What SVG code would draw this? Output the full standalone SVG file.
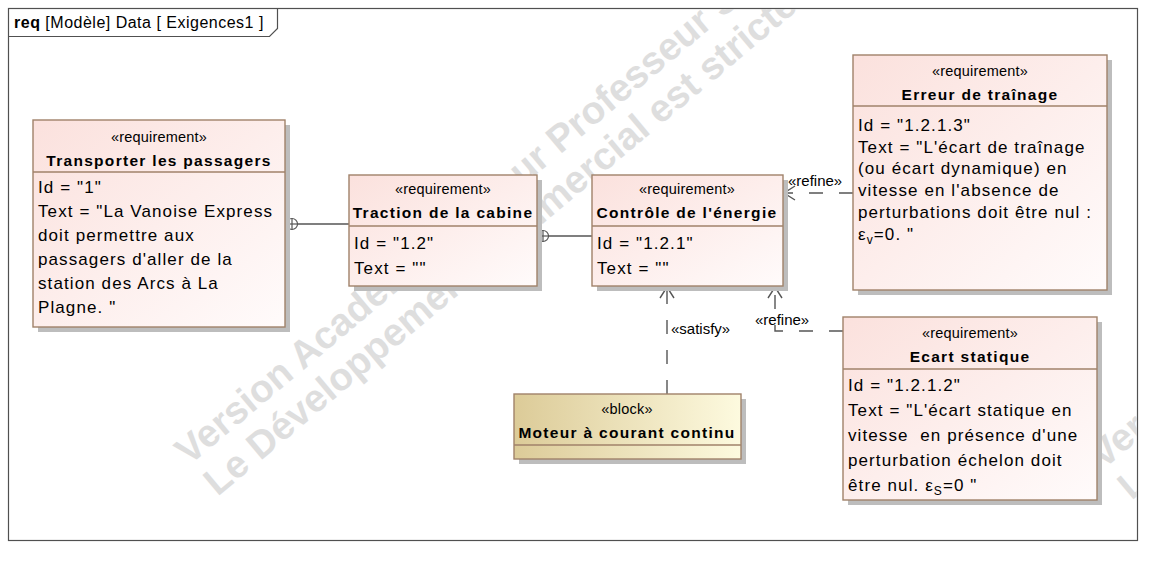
<svg xmlns="http://www.w3.org/2000/svg" width="1161" height="564" viewBox="0 0 1161 564">
<style>
  .frame{fill:#fff;stroke:#505050;stroke-width:1.2}
  .wm{font-family:"Liberation Sans",Arial,sans-serif;font-size:38.5px;font-weight:bold;fill:#dedede}
  .box{stroke:#a0826a;stroke-width:1.4}
  .req{fill:url(#gReq)}
  .blk{fill:url(#gBlk)}
  .shadow{fill:#bdbdbd}
  .div{stroke:#a0826a;stroke-width:1.4}
  .st{font-family:"Liberation Sans",Arial,sans-serif;font-size:14.5px;fill:#000;text-anchor:middle;letter-spacing:0.2px}
  .nm{font-family:"Liberation Sans",Arial,sans-serif;font-size:15.5px;font-weight:bold;fill:#000;text-anchor:middle;letter-spacing:1.3px}
  .bd{font-family:"Liberation Sans",Arial,sans-serif;font-size:17px;fill:#000;letter-spacing:1.1px;white-space:pre}
  .lbl{font-family:"Liberation Sans",Arial,sans-serif;font-size:15px;fill:#000}
  .tab{font-family:"Liberation Sans",Arial,sans-serif;font-size:16px;fill:#000;letter-spacing:0.5px}
  .ln{fill:none;stroke:#555;stroke-width:1.4}
  .dash{fill:none;stroke:#555;stroke-width:1.4;stroke-dasharray:14 16}
  .own{fill:none;stroke:#555;stroke-width:1.2}
</style>
<defs>
  <linearGradient id="gReq" x1="0" y1="0" x2="1" y2="1">
    <stop offset="0" stop-color="#fbe1dd"/>
    <stop offset="1" stop-color="#fffbfb"/>
  </linearGradient>
  <linearGradient id="gBlk" x1="0" y1="0" x2="1" y2="0">
    <stop offset="0" stop-color="#dccb98"/>
    <stop offset="1" stop-color="#fdfadf"/>
  </linearGradient>
  <clipPath id="fclip"><rect x="9" y="9" width="1128" height="531"/></clipPath>
</defs>

<g id="frame">
  <rect class="frame" x="8.5" y="8.5" width="1129" height="532"/>
  <path class="ln" d="M8.5,36.5 H269.5 L277.5,28.5 V8.5" style="stroke:#505050;stroke-width:1.2"/>
  <text class="tab" x="14" y="28"><tspan font-weight="bold">req</tspan> [Modèle] Data [ Exigences1 ]</text>
</g>

<g id="watermark" clip-path="url(#fclip)">
  <g transform="translate(189,466) rotate(-40)">
    <text class="wm" x="0" y="0">Version Académique pour Professeur Seulement</text>
    <text class="wm" x="2" y="42">Le Développement commercial est strictement interdit</text>
  </g>
  <g transform="translate(1103,470) rotate(-40)">
    <text class="wm" x="0" y="0">Version Académique pour Professeur Seulement</text>
    <text class="wm" x="2" y="42">Le Développement commercial est strictement interdit</text>
  </g>
</g>

<g id="connectors">
  <line class="ln" x1="298" y1="224" x2="349" y2="224"/>
  <circle class="own" cx="292" cy="224" r="5.5"/>
  <line class="own" x1="286.5" y1="224" x2="297.5" y2="224"/>
  <line class="own" x1="292" y1="218.5" x2="292" y2="229.5"/>
  <line class="ln" x1="548" y1="236" x2="592" y2="236"/>
  <circle class="own" cx="543" cy="236" r="5.5"/>
  <line class="own" x1="537.5" y1="236" x2="548.5" y2="236"/>
  <line class="own" x1="543" y1="230.5" x2="543" y2="241.5"/>
  <path class="dash" d="M667,394 V287"/>
  <path class="ln" d="M660,298 L667,287 L674,298"/>
  <text class="lbl" x="671" y="334">«satisfy»</text>
  <path class="dash" d="M843,331 H775 V287"/>
  <path class="ln" d="M768,298 L775,287 L782,298"/>
  <text class="lbl" x="755" y="325">«refine»</text>
  <path class="dash" d="M853,193 H783"/>
  <path class="ln" d="M795,186 L784,193 L795,200"/>
  <text class="lbl" x="788" y="186">«refine»</text>
</g>

<g id="transporter">
  <rect class="shadow" x="38" y="125" width="252" height="207"/>
  <rect class="box req" x="33" y="120" width="252" height="207"/>
  <line class="div" x1="33" y1="172" x2="285" y2="172"/>
  <text class="st" x="159" y="142">«requirement»</text>
  <text class="nm" x="159" y="166">Transporter les passagers</text>
  <text class="bd" x="38" y="193">Id = "1"</text>
  <text class="bd" x="38" y="217">Text = "La Vanoise Express</text>
  <text class="bd" x="38" y="241">doit permettre aux</text>
  <text class="bd" x="38" y="265">passagers d'aller de la</text>
  <text class="bd" x="38" y="289">station des Arcs à La</text>
  <text class="bd" x="38" y="313">Plagne. "</text>
</g>

<g id="traction">
  <rect class="shadow" x="354" y="180" width="188" height="111"/>
  <rect class="box req" x="349" y="175" width="188" height="111"/>
  <line class="div" x1="349" y1="226" x2="537" y2="226"/>
  <text class="st" x="443" y="194">«requirement»</text>
  <text class="nm" x="443" y="218">Traction de la cabine</text>
  <text class="bd" x="354" y="249">Id = "1.2"</text>
  <text class="bd" x="354" y="274">Text = ""</text>
</g>

<g id="controle">
  <rect class="shadow" x="597" y="180" width="191" height="111"/>
  <rect class="box req" x="592" y="175" width="191" height="111"/>
  <line class="div" x1="592" y1="226" x2="783" y2="226"/>
  <text class="st" x="687" y="194">«requirement»</text>
  <text class="nm" x="687" y="218">Contrôle de l'énergie</text>
  <text class="bd" x="597" y="249">Id = "1.2.1"</text>
  <text class="bd" x="597" y="274">Text = ""</text>
</g>

<g id="erreur">
  <rect class="shadow" x="858" y="60" width="254" height="235"/>
  <rect class="box req" x="853" y="55" width="254" height="235"/>
  <line class="div" x1="853" y1="106" x2="1107" y2="106"/>
  <text class="st" x="980" y="76">«requirement»</text>
  <text class="nm" x="980" y="100">Erreur de traînage</text>
  <text class="bd" x="858" y="131">Id = "1.2.1.3"</text>
  <text class="bd" x="858" y="153">Text = "L'écart de traînage</text>
  <text class="bd" x="858" y="174">(ou écart dynamique) en</text>
  <text class="bd" x="858" y="196">vitesse en l'absence de</text>
  <text class="bd" x="858" y="218">perturbations doit être nul :</text>
  <text class="bd" x="858" y="240">ε<tspan font-size="12px" dy="4">v</tspan><tspan dy="-4">=0. "</tspan></text>
</g>

<g id="ecart">
  <rect class="shadow" x="848" y="322" width="254" height="183"/>
  <rect class="box req" x="843" y="317" width="254" height="183"/>
  <line class="div" x1="843" y1="369" x2="1097" y2="369"/>
  <text class="st" x="970" y="338">«requirement»</text>
  <text class="nm" x="970" y="362">Ecart statique</text>
  <text class="bd" x="848" y="391">Id = "1.2.1.2"</text>
  <text class="bd" x="848" y="416">Text = "L'écart statique en</text>
  <text class="bd" x="848" y="441">vitesse  en présence d'une</text>
  <text class="bd" x="848" y="466">perturbation échelon doit</text>
  <text class="bd" x="848" y="491">être nul. ε<tspan font-size="12px" dy="4">S</tspan><tspan dy="-4">=0 "</tspan></text>
</g>

<g id="moteur">
  <rect class="shadow" x="519" y="399" width="227" height="65"/>
  <rect class="box blk" x="514" y="394" width="227" height="65"/>
  <line class="div" x1="514" y1="445" x2="741" y2="445"/>
  <text class="st" x="627" y="414">«block»</text>
  <text class="nm" x="627" y="438">Moteur à courant continu</text>
</g>
</svg>
